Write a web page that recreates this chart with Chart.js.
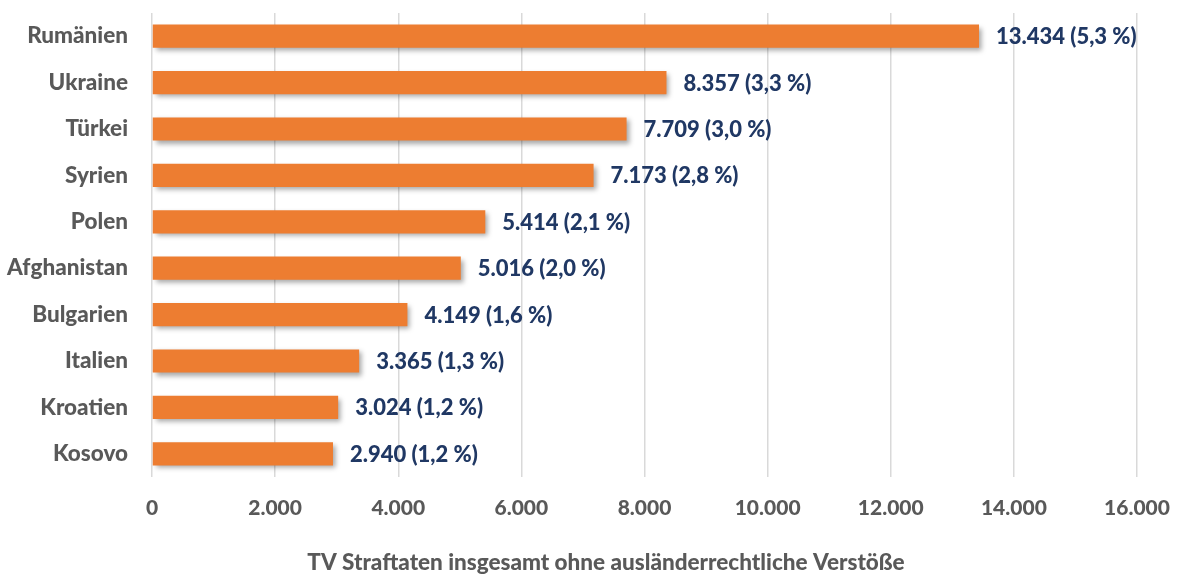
<!DOCTYPE html>
<html>
<head>
<meta charset="utf-8">
<script src="https://cdn.jsdelivr.net/npm/chart.js@4/dist/chart.umd.min.js"></script>
<style>
  html, body { margin: 0; padding: 0; background: #fff; }
  #wrap { width: 1180px; height: 577px; position: relative; }
</style>
</head>
<body>
<div id="wrap"><canvas id="grafico"></canvas></div>
<script>
// Daten aus der Grafik
const laender = ['Rumänien', 'Ukraine', 'Türkei', 'Syrien', 'Polen', 'Afghanistan', 'Bulgarien', 'Italien', 'Kroatien', 'Kosovo'];
const anzahl = [13434, 8357, 7709, 7173, 5414, 5016, 4149, 3365, 3024, 2940];
const anteil = [5.3, 3.3, 3.0, 2.8, 2.1, 2.0, 1.6, 1.3, 1.2, 1.2];
const achsenTitel = 'TV Straftaten insgesamt ohne ausländerrechtliche Verstöße';

const schrift = 'Lato, "Open Sans", sans-serif';
const gewicht = '900';

function zahlDE(n) {
    return n.toLocaleString('de-DE');
}

// Schatten unter den Balken, Werte rechts daneben, Achsentitel
const balkenPlugin = {
    id: 'balkenPlugin',
    beforeDatasetsDraw(chart) {
        const ctx = chart.ctx;
        ctx.save();
        ctx.shadowColor = 'rgba(0,0,0,0.35)';
        ctx.shadowBlur = 5;
        ctx.shadowOffsetX = 3;
        ctx.shadowOffsetY = 3;
    },
    afterDatasetsDraw(chart) {
        const ctx = chart.ctx;
        ctx.restore();
        const meta = chart.getDatasetMeta(0);
        ctx.save();
        ctx.font = gewicht + ' 22px ' + schrift;
        ctx.fillStyle = '#203864';
        ctx.textAlign = 'left';
        ctx.textBaseline = 'middle';
        meta.data.forEach(function(bar, i) {
            const txt = zahlDE(anzahl[i]) + ' (' + anteil[i].toFixed(1).replace('.', ',') + ' %)';
            ctx.fillText(txt, bar.x + 17, bar.y + 1);
        });
        // Achsentitel (im Original leicht links von der Mitte)
        ctx.font = gewicht + ' 22.5px ' + schrift;
        ctx.fillStyle = '#595959';
        ctx.textAlign = 'center';
        ctx.fillText(achsenTitel, 606, 563);
        ctx.restore();
    }
};

const ctx = document.getElementById('grafico').getContext('2d');
new Chart(ctx, {
    type: 'bar',
    data: {
        labels: laender,
        datasets: [{
            data: anzahl,
            backgroundColor: '#ED7D31',
            borderWidth: 0,
            categoryPercentage: 1.0,
            barPercentage: 0.5
        }]
    },
    options: {
        indexAxis: 'y',
        responsive: true,
        maintainAspectRatio: false,
        animation: false,
        layout: { padding: { top: 13, right: 43, bottom: 0, left: 0 } },
        plugins: {
            legend: { display: false },
            tooltip: { enabled: false }
        },
        scales: {
            x: {
                min: 0,
                max: 16000,
                ticks: {
                    stepSize: 2000,
                    color: '#595959',
                    font: { family: schrift, size: 21, weight: gewicht },
                    padding: 19,
                    callback: function(v) { return zahlDE(v); }
                },
                grid: { color: '#d9d9d9', lineWidth: 1.5, drawTicks: false },
                border: { display: false },
                afterFit: function(scale) {
                    scale.height = 100;
                    scale.paddingLeft = 0;
                    scale.paddingRight = 0;
                }
            },
            y: {
                ticks: {
                    color: '#595959',
                    font: { family: schrift, size: 22.5, weight: gewicht },
                    padding: 24
                },
                grid: { display: false, drawTicks: false },
                border: { display: false },
                afterFit: function(scale) {
                    scale.width = 152;
                    scale.paddingTop = 0;
                    scale.paddingBottom = 0;
                }
            }
        }
    },
    plugins: [balkenPlugin]
});
</script>
</body>
</html>
